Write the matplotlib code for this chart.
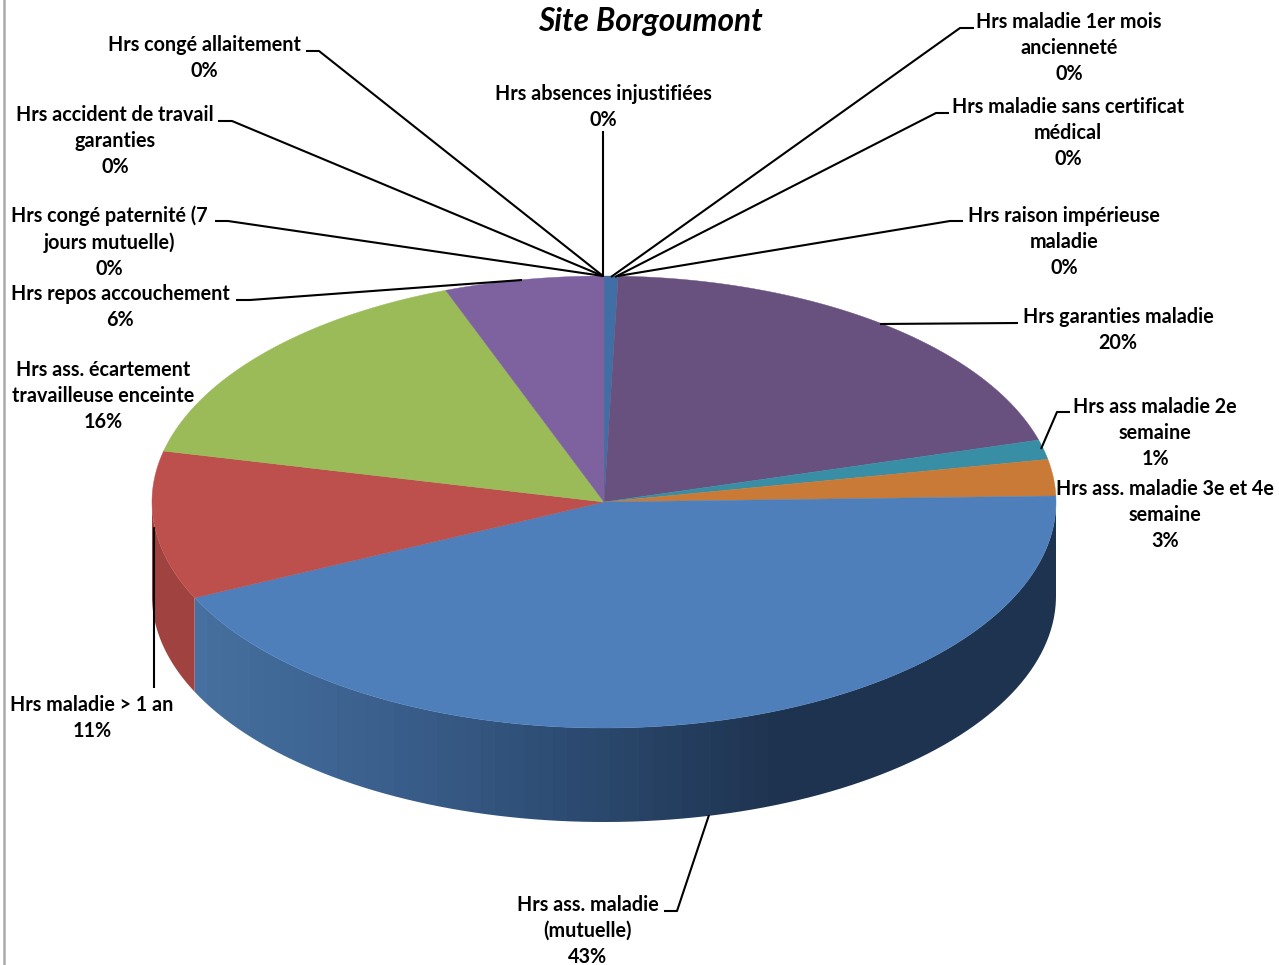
import numpy as np
import matplotlib
matplotlib.use("Agg")
import matplotlib.pyplot as plt
from matplotlib.colors import LinearSegmentedColormap
from matplotlib.patches import Polygon, PathPatch
from matplotlib.path import Path

plt.rcParams['font.family'] = ['Lato', 'DejaVu Sans']

# clockwise from 12 o'clock
labels = [
    "Hrs absences injustifiées",
    "Hrs maladie 1er mois\nancienneté",
    "Hrs maladie sans certificat\nmédical",
    "Hrs raison impérieuse\nmaladie",
    "Hrs garanties maladie",
    "Hrs ass maladie 2e\nsemaine",
    "Hrs ass. maladie 3e et 4e\nsemaine",
    "Hrs ass. maladie\n(mutuelle)",
    "Hrs maladie > 1 an",
    "Hrs ass. écartement\ntravailleuse enceinte",
    "Hrs repos accouchement",
    "Hrs congé paternité (7\njours mutuelle)",
    "Hrs accident de travail\ngaranties",
    "Hrs congé allaitement",
]
values = [0.5, 0, 0, 0, 20.1, 1.4, 2.6, 43.5, 10.6, 15.7, 5.7, 0, 0, 0]
colors = ["#3f6fa5", "#c0504d", "#9bbb59", "#8064a2", "#69517f", "#378ea5", "#c87a36",
          "#4e7fbb", "#bd4f4c", "#9bbb59", "#7e62a0", "#4e7fbb", "#c0504d", "#9bbb59"]

# label block centres, in pixels
label_pos = [(603, 107), (1069, 48), (1068, 133), (1064, 242), (1118, 330), (1155, 433),
             (1165, 515), (588, 931), (92, 718), (103, 396), (120, 307), (109, 242),
             (115, 141), (204, 58)]

leaders = [
    [(603, 131), (603, 277)],
    [(974, 28), (960, 28), (611, 277)],
    [(949, 113), (936, 113), (615, 277)],
    [(963, 221), (950, 221), (618, 276)],
    [(1018, 323), (880, 324)],
    [(1070, 412), (1057, 412), (1041, 449)],
    None,
    [(664, 911), (677, 911), (709, 815)],
    [(154, 688), (154, 527)],
    None,
    [(236, 300), (250, 300), (522, 280)],
    [(215, 221), (228, 221), (603, 276)],
    [(218, 121), (232, 121), (603, 276)],
    [(306, 51), (319, 51), (603, 276)],
]

cx, cy = 604, 502
rx, ry = 452, 226
depth = 94


def ellipse_pts(a0, a1, n=200):
    # angles in radians, clockwise from the top
    t = np.linspace(a0, a1, n)
    return np.column_stack([cx + rx * np.sin(t), cy - ry * np.cos(t)])


def side_poly(a0, a1):
    top = ellipse_pts(a0, a1)
    bot = top[::-1] + [0, depth]
    return np.vstack([top, bot])


fig = plt.figure(figsize=(12.79, 9.65), dpi=100)
ax = fig.add_axes([0, 0, 1, 1])
ax.set_xlim(0, 1279)
ax.set_ylim(965, 0)
ax.axis("off")

ax.plot([3.5, 3.5], [0, 965], color="#ababab", lw=1.8)

edges = np.cumsum([0] + values) / sum(values) * 2 * np.pi
a_blue0, a_blue1 = edges[7], edges[8]

# side of the big slice: shading goes from mid blue to dark
side_cmap = LinearSegmentedColormap.from_list("side", ["#46709f", "#3a5f8c", "#2c4a70", "#1f3450", "#1e3350"])
grad = np.linspace(0, 1, 60).reshape(1, -1)
poly = side_poly(max(a_blue0, np.pi / 2), a_blue1)
im = ax.imshow(grad, extent=[193, 1056, 965, 0], cmap=side_cmap, aspect="auto", zorder=1,
               vmin=0, vmax=0.9)
clip = PathPatch(Path(poly), transform=ax.transData, fc="none", ec="none")
ax.add_patch(clip)
im.set_clip_path(clip)
ax.set_xlim(0, 1279)
ax.set_ylim(965, 0)

# side of the red slice
ax.add_patch(Polygon(side_poly(a_blue1, 1.5 * np.pi), fc="#a0423f", ec="none", zorder=1))

# top faces
for i, v in enumerate(values):
    if v == 0:
        continue
    pts = np.vstack([[cx, cy], ellipse_pts(edges[i], edges[i + 1])])
    ax.add_patch(Polygon(pts, fc=colors[i], ec=colors[i], lw=0.3, zorder=2))

# leader lines
for seg in leaders:
    if seg is None:
        continue
    xs, ys = zip(*seg)
    ax.plot(xs, ys, color="black", lw=1.5, zorder=3, solid_capstyle="butt")

# labels
for lab, v, (x, y) in zip(labels, values, label_pos):
    ax.text(x, y, f"{lab}\n{int(v + 0.49)}%", ha="center", va="center", fontsize=14.2,
            fontweight="bold", color="black", linespacing=1.39, zorder=4)

ax.text(650, 21, "Site Borgoumont", ha="center", va="center", fontsize=22.8,
        fontweight="bold", fontstyle="italic", color="black", zorder=4)

fig.savefig("out.png", dpi=100)
